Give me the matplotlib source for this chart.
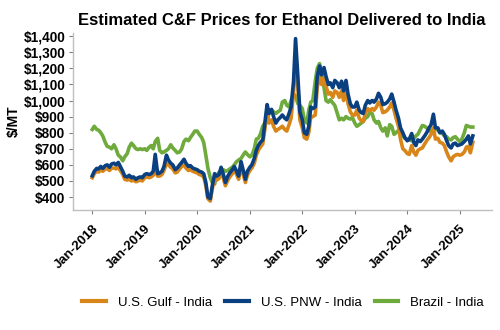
import matplotlib
matplotlib.use("Agg")
import matplotlib.pyplot as plt
import matplotlib.dates as mdates
import matplotlib.ticker as mticker
import pandas as pd

plt.rcParams['font.family'] = ['Liberation Sans', 'DejaVu Sans']

# semi-monthly dates, Jan 2018 .. Apr 2025
dates = pd.date_range("2018-01-01", "2025-04-01", freq="SMS")

pnw = [
    # 2018
    532, 560, 578, 575, 590, 578, 595, 600, 585, 605, 610, 600,
    615, 590, 560, 530, 525, 535, 520, 525, 510, 520, 525, 520,
    # 2019
    540, 545, 540, 545, 560, 665, 545, 550, 560, 590, 660, 630,
    610, 600, 570, 580, 600, 615, 635, 610, 590, 595, 580, 575,
    # 2020
    570, 560, 555, 545, 490, 400, 390, 470, 545, 530, 540, 585,
    540, 490, 530, 550, 570, 590, 560, 530, 620, 570, 510, 560,
    # 2021
    585, 600, 640, 690, 720, 740, 755, 860, 975, 920, 945, 900,
    860, 880, 895, 910, 890, 880, 920, 960, 1120, 1385, 1150, 930,
    # 2022
    880, 800, 790, 840, 960, 950, 960, 1150, 1215, 1160, 1205, 1150,
    1100, 1110, 1080, 1125, 1110, 1080, 1120, 1060, 1125, 1040, 980, 960,
    # 2023
    960, 990, 940, 925, 920, 970, 1000, 985, 1000, 990, 1010, 1045,
    1020, 975, 980, 990, 1010, 1040, 990, 940, 890, 830, 800, 770,
    # 2024
    750, 760, 795, 740, 720, 755, 745, 760, 780, 800, 830, 850,
    915, 830, 830, 800, 810, 790, 750, 720, 705, 730, 735, 720,
    # 2025
    725, 730, 745, 760, 780, 730, 780,
]

gulf = [
    # 2018
    520, 545, 560, 555, 570, 560, 575, 575, 565, 580, 580, 575,
    585, 565, 540, 510, 505, 510, 500, 505, 495, 500, 505, 500,
    # 2019
    520, 525, 520, 525, 535, 560, 530, 530, 540, 565, 610, 600,
    585, 575, 550, 555, 575, 590, 600, 580, 565, 570, 560, 555,
    # 2020
    550, 540, 535, 525, 470, 390, 375, 450, 520, 505, 515, 560,
    515, 470, 505, 525, 545, 565, 540, 510, 590, 545, 490, 535,
    # 2021
    565, 580, 610, 660, 690, 710, 730, 820, 920, 860, 880, 840,
    810, 820, 830, 840, 820, 810, 850, 890, 1050, 1250, 1080, 880,
    # 2022
    830, 770, 760, 800, 900, 900, 910, 1080, 1160, 1100, 1140, 1090,
    1040, 1050, 1020, 1060, 1050, 1020, 1060, 1000, 1060, 980, 930, 910,
    # 2023
    910, 940, 890, 875, 870, 920, 950, 935, 950, 940, 960, 990,
    970, 925, 930, 940, 960, 985, 940, 890, 840, 760, 700, 690,
    # 2024
    670, 665, 720, 680, 660, 690, 700, 705, 730, 750, 770, 790,
    830, 760, 765, 740, 735, 720, 680, 650, 625, 650, 660, 665,
    # 2025
    660, 665, 680, 710, 715, 675, 740,
]

brazil = [
    # 2018
    820, 840, 820, 815, 800, 780, 740, 715, 710, 700, 725, 700,
    660, 650, 625, 650, 670, 710, 735, 720, 700, 695, 700, 695,
    # 2019
    700, 690, 710, 720, 700, 745, 765, 690, 675, 680, 690, 700,
    725, 705, 690, 675, 680, 700, 745, 760, 750, 770, 790, 810,
    # 2020
    810, 790, 770, 740, 660, 580, 520, 490, 480, 530, 555, 560,
    570, 560, 565, 575, 585, 600, 620, 630, 640, 660, 680, 665,
    # 2021
    650, 660, 700, 760, 765, 790, 840, 860, 880, 920, 940, 930,
    920, 930, 940, 990, 1000, 970, 960, 1000, 1040, 1030, 980, 970,
    # 2022
    950, 880, 860, 940, 990, 1000, 1120, 1200, 1230, 1180, 1080, 1000,
    990, 1005, 985, 970, 920, 880, 890, 880, 900, 890, 885, 895,
    # 2023
    860, 840, 850, 860, 870, 890, 900, 925, 920, 880, 860, 870,
    830, 810, 830, 780, 850, 840, 790, 800, 815, 810, 780, 765,
    # 2024
    760, 755, 750, 760, 780, 790, 820, 845, 840, 830, 815, 805,
    810, 825, 815, 800, 795, 780, 775, 760, 755, 770, 775, 760,
    # 2025
    745, 760, 800, 845, 840, 835, 835,
]

series_names = ["U.S. Gulf - India", "U.S. PNW - India", "Brazil - India"]
colors = ["#D8861A", "#0A3F80", "#6EAA3C"]
y_ticks = list(range(400, 1401, 100))

fig = plt.figure(figsize=(5.0, 3.3), dpi=100)
ax = fig.add_axes([0.146, 0.364, 0.837, 0.536])

lw = 2.6
l_br, = ax.plot(dates, brazil, color=colors[2], lw=lw, zorder=2, label=series_names[2])
l_gu, = ax.plot(dates, gulf, color=colors[0], lw=lw, zorder=3, label=series_names[0])
l_pn, = ax.plot(dates, pnw, color=colors[1], lw=lw, zorder=4, label=series_names[1])

ax.set_xlim(pd.Timestamp("2017-08-20"), pd.Timestamp("2025-08-09"))
ax.set_ylim(320, 1420)
ax.set_yticks(y_ticks)
ax.yaxis.set_major_formatter(mticker.FuncFormatter(lambda v, p: "${:,.0f}".format(v)))

ax.xaxis.set_major_locator(mdates.YearLocator())
ax.xaxis.set_major_formatter(mdates.DateFormatter("%b-%Y"))

for s in ["top", "right"]:
    ax.spines[s].set_visible(False)
for s in ["left", "bottom"]:
    ax.spines[s].set_color("#BFBFBF")
    ax.spines[s].set_linewidth(1.0)

ax.tick_params(axis="both", colors="#808080", length=3, width=0.8, labelcolor="black")
ax.tick_params(axis="y", pad=2.5)
ax.tick_params(axis="x", pad=6)
for lab in ax.get_yticklabels():
    lab.set_fontsize(9.8)
    lab.set_fontweight("bold")
for lab in ax.get_xticklabels():
    lab.set_fontsize(9.5)
    lab.set_fontweight("bold")
    lab.set_rotation(45)
    lab.set_ha("right")
    lab.set_rotation_mode("anchor")

ax.set_ylabel("$/MT", fontsize=10, fontweight="bold", labelpad=2)
ax.set_title("Estimated C&F Prices for Ethanol Delivered to India",
             fontsize=12, fontweight="bold", pad=6)

leg = fig.legend(handles=[l_gu, l_pn, l_br], labels=series_names,
                 loc="center", bbox_to_anchor=(0.566, 0.082), ncol=3,
                 frameon=False, fontsize=9.5, handlelength=1.8,
                 columnspacing=1.0, handletextpad=0.9)
for line in leg.get_lines():
    line.set_linewidth(3)

fig.savefig("out.png", dpi=100)
